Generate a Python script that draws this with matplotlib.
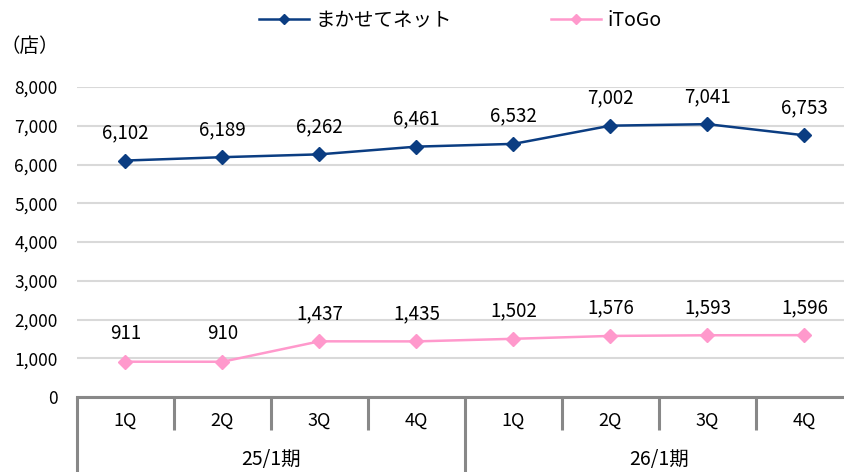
import matplotlib
matplotlib.use('Agg')
import matplotlib.pyplot as plt
import matplotlib.transforms as mtransforms

plt.rcParams['font.family'] = ['Noto Sans CJK JP', 'DejaVu Sans']

# data
quarters = ['1Q', '2Q', '3Q', '4Q', '1Q', '2Q', '3Q', '4Q']
periods = ['25/1期', '26/1期']
makase = [6102, 6189, 6262, 6461, 6532, 7002, 7041, 6753]
itogo = [911, 910, 1437, 1435, 1502, 1576, 1593, 1596]
yticks = [0, 1000, 2000, 3000, 4000, 5000, 6000, 7000, 8000]

navy = '#0b3d82'
pink = '#ff99cc'
edge = '#888888'

fig = plt.figure(figsize=(8.45, 4.72), dpi=100)
ax = fig.add_axes([77 / 845, 1 - 397 / 472, 776 / 845, 310 / 472])

x = list(range(len(quarters)))
ax.plot(x, makase, color=navy, lw=1.8, marker='D', ms=7, label='まかせてネット', zorder=3)
ax.plot(x, itogo, color=pink, lw=1.8, marker='D', ms=7, label='iToGo', zorder=3)

for xi, v in zip(x, makase):
    ax.annotate(f'{v:,}', (xi, v), xytext=(0, 20), textcoords='offset points',
                ha='center', va='center', fontsize=13.5)
for xi, v in zip(x, itogo):
    ax.annotate(f'{v:,}', (xi, v), xytext=(0, 20), textcoords='offset points',
                ha='center', va='center', fontsize=13.5)

ax.set_xlim(-0.5, len(quarters) - 0.5)
ax.set_ylim(0, 8000)
ax.set_yticks(yticks)
ax.set_yticklabels([f'{t:,}' for t in yticks], fontsize=12.5)
ax.tick_params(axis='y', length=0, pad=14)
ax.set_xticks([])
ax.grid(axis='y', color='#d9d9d9', lw=1.5)
ax.set_axisbelow(True)
for s in ['top', 'right', 'left']:
    ax.spines[s].set_visible(False)
ax.spines['bottom'].set_color(edge)
ax.spines['bottom'].set_linewidth(2.2)

# category axis
trans = mtransforms.blended_transform_factory(ax.transData, ax.transAxes)
for i in range(len(quarters) + 1):
    xb = i - 0.5
    bottom = -0.3 if i % 4 == 0 else -0.106
    ax.plot([xb, xb], [0, bottom], color=edge, lw=2.2, transform=trans, clip_on=False,
            solid_capstyle='butt')
for xi, q in zip(x, quarters):
    ax.text(xi, -0.076, q, transform=trans, ha='center', va='center', fontsize=13)
for j, p in enumerate(periods):
    ax.text(j * 4 + 1.5, -0.203, p, transform=trans, ha='center', va='center', fontsize=14)

fig.text(0 / 845, 1 - 47 / 472, '（店）', ha='left', va='center', fontsize=14)

leg = fig.legend(loc='center', bbox_to_anchor=(460 / 845, 1 - 20 / 472), ncol=2, frameon=False,
                 fontsize=14, columnspacing=5.1, handlelength=2.6, handletextpad=0.3)
for line in leg.get_lines():
    line.set_markersize(5.5)

fig.savefig('out.png', dpi=100)
